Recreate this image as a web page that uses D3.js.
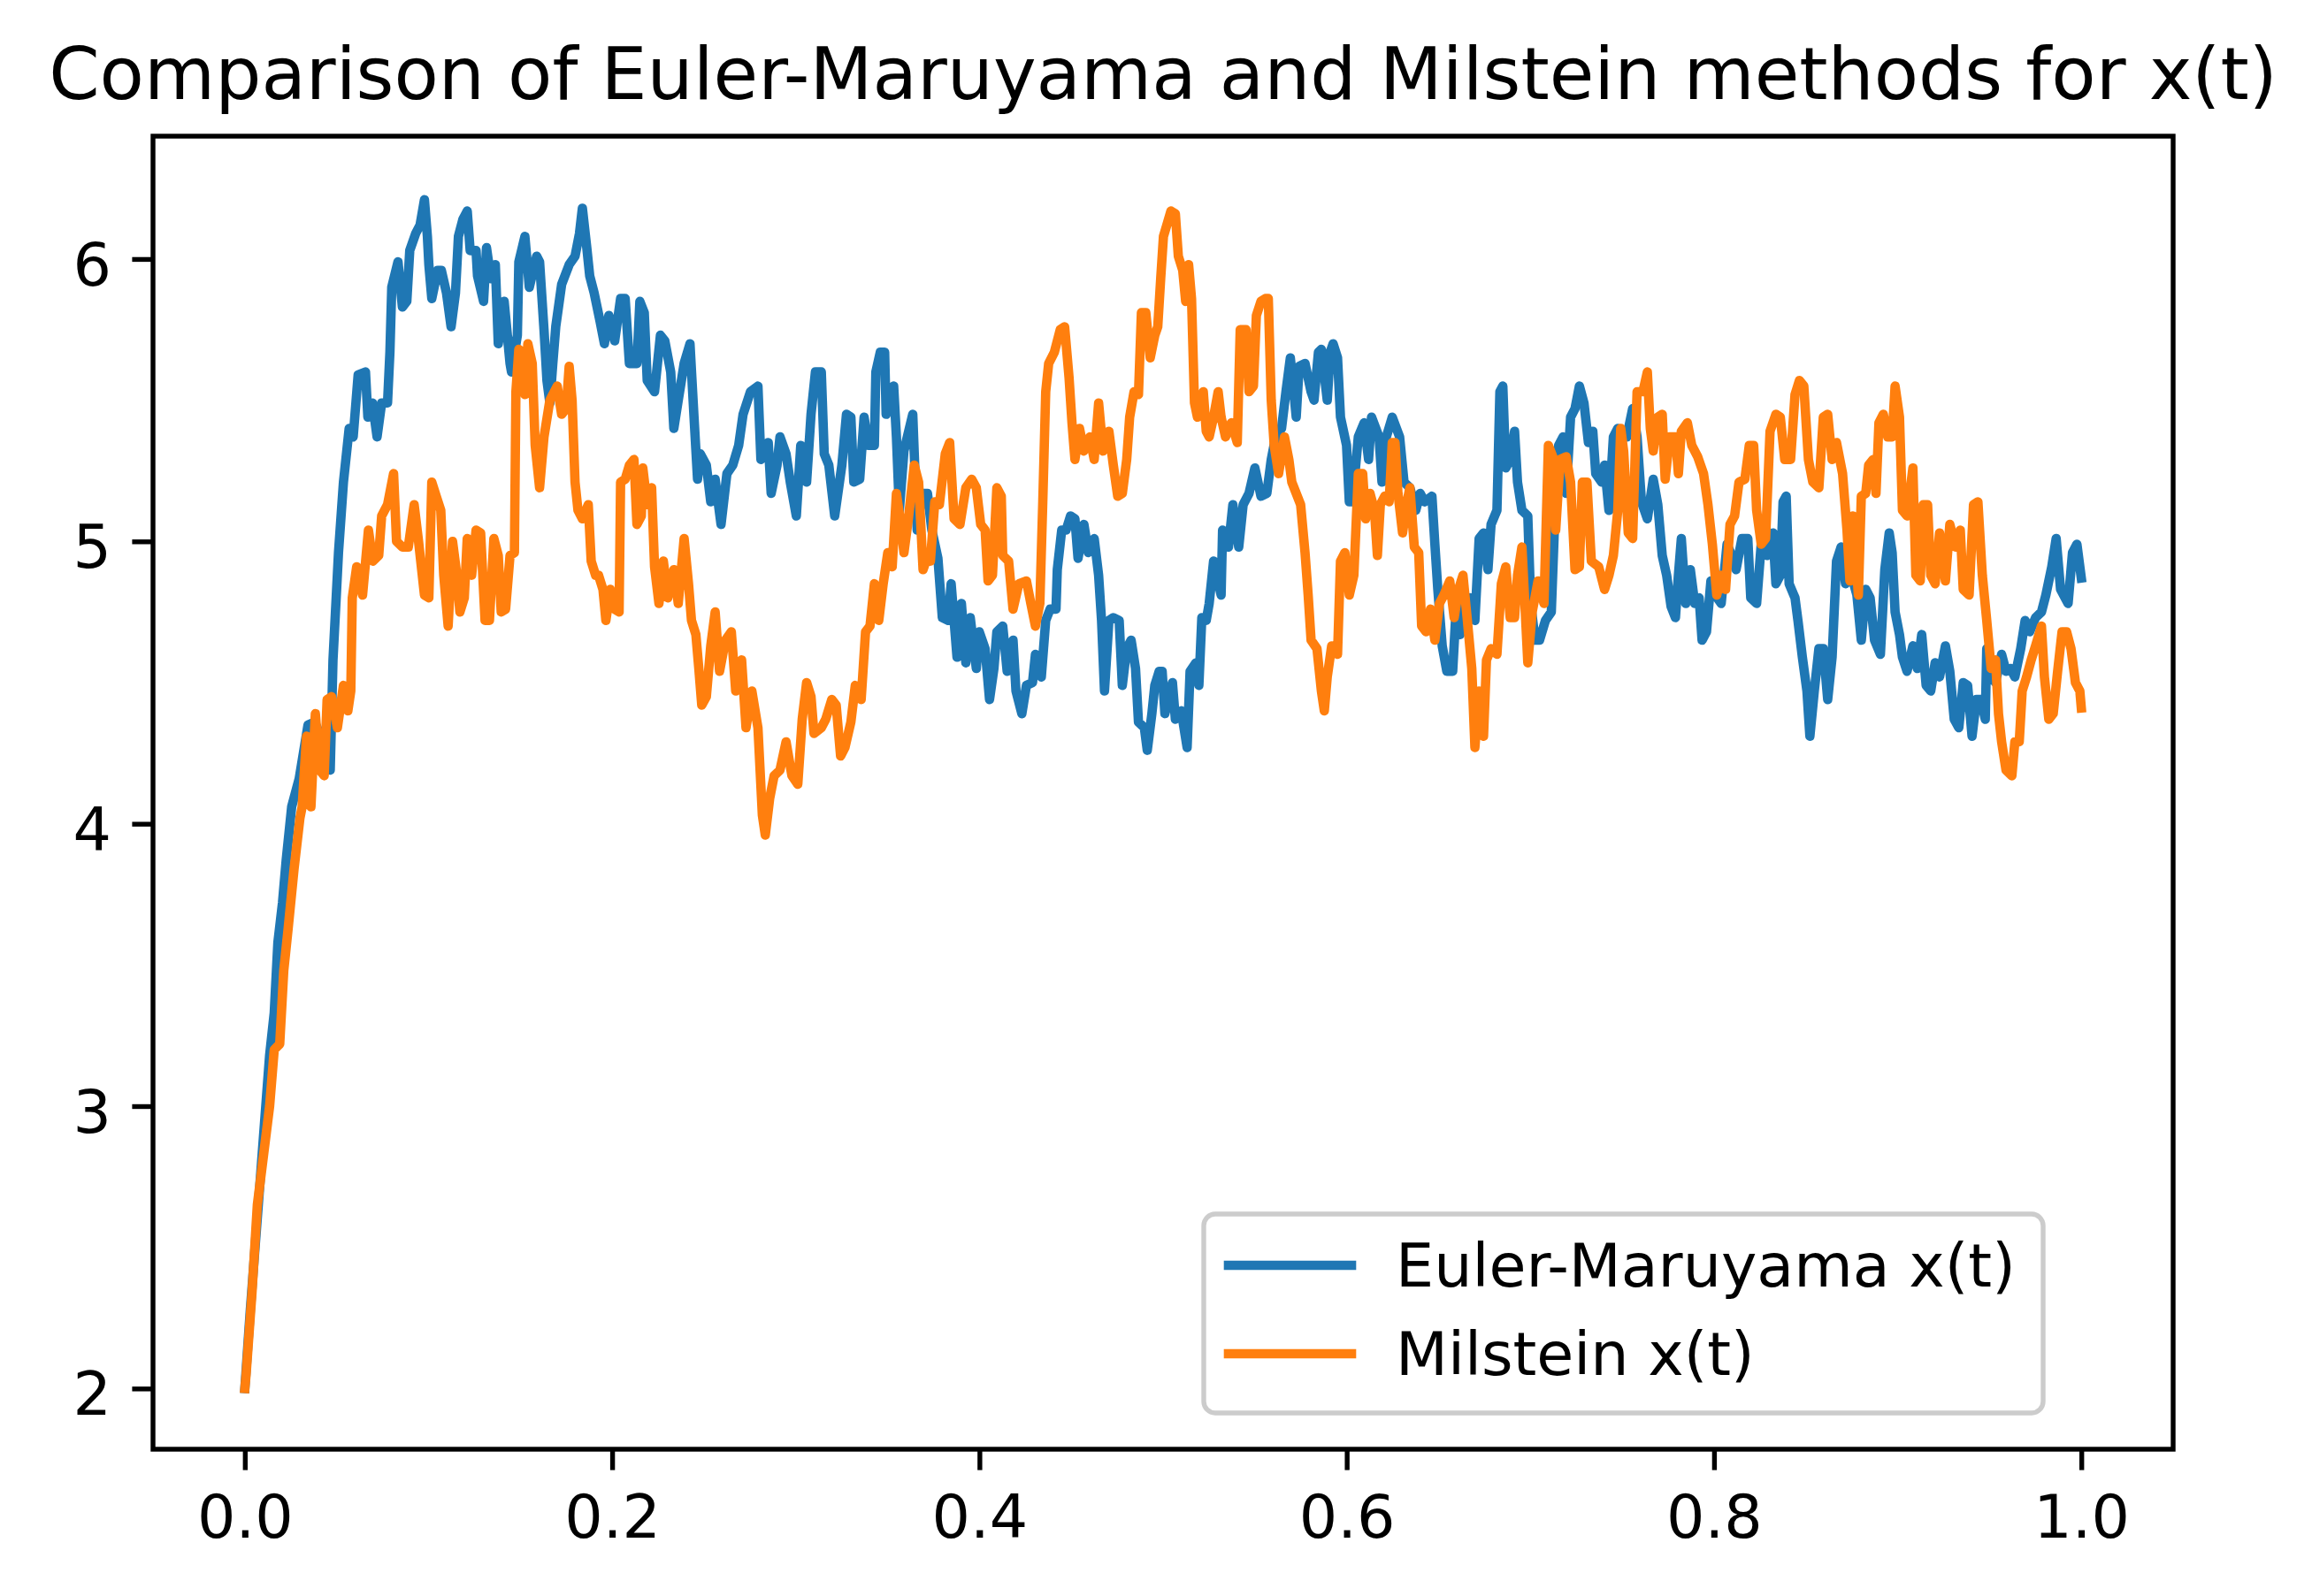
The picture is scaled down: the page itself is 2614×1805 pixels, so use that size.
<!DOCTYPE html>
<html>
<head>
<meta charset="utf-8">
<script src="https://cdn.jsdelivr.net/npm/d3@7"></script>
<style>
  html, body { margin: 0; padding: 0; background: #ffffff; }
  svg { display: block; }
  text { font-family: "DejaVu Sans", sans-serif; fill: #000; }
</style>
</head>
<body>
<svg id="chart" width="2614" height="1805"></svg>
<script>
// ---------- data ----------
const chartTitle = "Comparison of Euler-Maruyama and Milstein methods for x(t)";
const seriesNames = ["Euler-Maruyama x(t)", "Milstein x(t)"];
const xTicks = [0.0, 0.2, 0.4, 0.6, 0.8, 1.0];
const yTicks = [2, 3, 4, 5, 6];

const emT = [0,0.003,0.0085,0.0135,0.016,0.018,0.0205,0.0225,0.0255,0.0296,0.0344,0.038,0.042,0.0465,0.048,0.051,0.0537,0.0568,0.059,0.0617,0.0657,0.067,0.0695,0.072,0.0745,0.0777,0.079,0.080,0.0834,0.0858,0.0882,0.0898,0.093,0.0954,0.0978,0.0994,0.1002,0.1018,0.105,0.107,0.1098,0.1123,0.1147,0.1163,0.1187,0.1211,0.1227,
0.1259,0.1267,0.1300,0.1316,0.1340,0.1364,0.1380,0.1412,0.1444,0.1452,0.1484,0.1492,0.1525,0.1549,0.1589,0.1605,0.1629,0.1645,0.1661,0.1677,0.1693,0.1725,0.1766,0.1798,0.1822,0.1838,0.1862,0.1878,0.1902,0.1934,0.1958,0.1982,0.2014,0.2046,0.2071,0.2094,0.2135,0.2151,0.2175,0.2191,0.2231,0.2263,0.2287,0.2319,0.2336,0.2360,0.2392,0.2424,0.2445,0.2465,
0.2480,0.2513,0.2537,0.2561,0.2593,0.2625,0.2657,0.2689,0.2713,0.2753,0.2794,0.2810,0.2850,0.2866,0.2898,0.2914,0.2947,0.2970,0.3003,0.3027,0.3059,0.3083,0.3107,0.3139,0.3155,0.3180,0.3212,0.3251,0.3276,0.3300,0.3316,0.3348,0.3372,0.3396,0.3428,0.3436,0.3460,0.3484,0.3492,0.3533,0.3548,0.3564,0.3589,0.3637,0.3661,0.3685,0.3717,0.3741,
0.3774,0.3798,0.3830,0.3846,0.3878,0.3902,0.3926,0.3950,0.3983,0.3999,0.4031,0.4055,0.4079,0.4095,0.4127,0.4151,0.4183,0.4199,0.4231,0.4256,0.4289,0.4305,0.4337,0.4361,0.4385,0.4417,0.4424,0.4448,0.4472,0.4496,0.4520,0.4537,0.4569,0.4593,0.4625,0.4649,0.4665,0.4681,0.4705,0.4729,0.4761,0.4778,0.4802,0.4826,0.4850,0.4866,0.4898,0.4914,0.4939,0.4955,0.4979,
0.4995,0.5010,0.5051,0.5067,0.5099,0.5131,0.5147,0.5179,0.5195,0.5211,0.5235,0.5251,0.5275,0.5316,0.5324,0.5356,0.5380,0.5412,0.5436,0.5468,0.5500,0.5533,0.5565,0.5589,0.5613,0.5645,0.5669,0.5693,0.5709,0.5725,0.5741,0.5773,0.5806,0.5822,0.5846,0.5862,0.5894,0.5910,0.5926,0.5950,0.5966,0.5999,0.6014,0.6031,0.6063,0.6095,0.6119,0.6135,0.6176,0.6192,0.6216,0.6248,
0.6288,0.6312,0.6344,0.6376,0.6400,0.6424,0.6464,0.6480,0.6496,0.6520,0.6545,0.6577,0.6593,0.6617,0.6641,0.6673,0.6698,0.6721,0.6745,0.6769,0.6786,0.6818,0.6834,0.6850,0.6866,0.6890,0.6914,0.6930,0.6954,0.6986,0.7002,0.7026,0.7050,0.7082,0.7114,0.7130,0.7154,0.7178,0.7195,0.7219,0.7243,0.7267,0.7292,0.7316,0.7340,0.7356,0.7388,0.7404,0.7428,0.7452,0.7476,0.7500,
0.7525,0.7557,0.7581,0.7605,0.7637,0.7669,0.7694,0.7718,0.7742,0.7766,0.7790,0.7806,0.7822,0.7846,0.7871,0.7895,0.7919,0.7935,0.7959,0.7983,0.8007,0.8039,0.8071,0.8096,0.8120,0.8152,0.8184,0.8200,0.8232,0.8257,0.8289,0.8321,0.8337,0.8361,0.8376,0.8393,0.8409,0.8441,0.8457,0.8481,0.8506,0.8522,0.8546,0.8571,0.8595,0.8619,0.8643,0.8667,0.8692,0.8716,0.8748,
0.8778,0.8802,0.8826,0.8850,0.8874,0.8906,0.8930,0.8954,0.8970,0.8986,0.9010,0.9026,0.9051,0.9083,0.9107,0.9131,0.9155,0.9180,0.9204,0.9228,0.9260,0.9284,0.9308,0.9333,0.9357,0.9381,0.9405,0.9429,0.9453,0.9477,0.9485,0.9509,0.9533,0.9566,0.9590,0.9614,0.9638,0.9670,0.9694,0.9719,0.9751,0.9783,0.9807,0.9839,0.9863,0.9887,0.9928,0.9952,0.9976,1.0];

const emX = [2.00,2.28,2.75,3.18,3.33,3.58,3.72,3.87,4.06,4.16,4.35,4.36,4.30,4.19,4.58,4.96,5.21,5.40,5.37,5.59,5.60,5.44,5.49,5.37,5.49,5.49,5.67,5.90,5.99,5.83,5.85,6.03,6.09,6.12,6.21,6.08,5.98,5.86,5.96,5.96,5.88,5.76,5.88,6.08,6.14,6.17,6.03,
6.03,5.94,5.85,6.04,5.93,5.98,5.70,5.85,5.63,5.60,5.73,5.99,6.08,5.90,6.01,5.99,5.75,5.57,5.49,5.63,5.76,5.91,5.98,6.01,6.09,6.18,6.04,5.94,5.88,5.78,5.70,5.80,5.71,5.86,5.86,5.63,5.63,5.85,5.81,5.57,5.53,5.73,5.71,5.60,5.40,5.50,5.63,5.70,5.45,5.22,
5.31,5.27,5.14,5.22,5.06,5.24,5.27,5.34,5.45,5.53,5.55,5.29,5.35,5.17,5.27,5.37,5.31,5.21,5.09,5.34,5.21,5.45,5.60,5.60,5.31,5.27,5.09,5.27,5.45,5.44,5.21,5.22,5.44,5.34,5.34,5.60,5.67,5.67,5.45,5.55,5.37,5.11,5.32,5.45,5.04,5.17,5.17,5.04,
4.94,4.73,4.72,4.85,4.59,4.78,4.57,4.73,4.55,4.68,4.62,4.44,4.55,4.68,4.70,4.54,4.65,4.47,4.39,4.49,4.50,4.60,4.52,4.72,4.76,4.76,4.90,5.04,5.04,5.09,5.08,4.94,5.06,4.96,5.01,4.88,4.72,4.47,4.72,4.73,4.72,4.49,4.62,4.65,4.55,4.36,4.34,4.26,4.39,4.49,4.54,
4.54,4.39,4.50,4.37,4.40,4.27,4.54,4.57,4.49,4.73,4.72,4.78,4.93,4.81,5.04,4.98,5.13,4.98,5.13,5.17,5.26,5.16,5.17,5.29,5.37,5.40,5.53,5.65,5.55,5.44,5.62,5.63,5.53,5.50,5.67,5.68,5.50,5.67,5.70,5.65,5.44,5.34,5.14,5.14,5.37,5.42,5.29,5.44,5.37,5.21,5.37,5.44,
5.37,5.21,5.19,5.11,5.17,5.14,5.16,4.99,4.83,4.63,4.54,4.54,4.73,4.67,4.78,4.80,4.72,5.01,5.03,4.90,5.06,5.11,5.53,5.55,5.26,5.29,5.39,5.21,5.11,5.09,4.78,4.65,4.65,4.72,4.75,5.03,5.34,5.37,5.17,5.44,5.47,5.55,5.49,5.35,5.39,5.24,5.21,5.27,5.11,5.37,5.40,5.37,
5.37,5.47,5.37,5.14,5.08,5.22,5.13,4.95,4.88,4.77,4.73,4.88,5.01,4.78,4.90,4.78,4.80,4.65,4.68,4.86,4.81,4.78,4.99,4.95,4.90,5.01,5.01,4.80,4.78,4.99,4.95,5.03,4.85,4.88,5.14,5.16,4.85,4.80,4.72,4.59,4.47,4.31,4.47,4.62,4.62,4.44,4.59,4.93,4.98,4.85,4.88,
4.81,4.65,4.83,4.80,4.65,4.60,4.90,5.03,4.96,4.75,4.67,4.59,4.54,4.63,4.55,4.67,4.49,4.47,4.57,4.52,4.63,4.54,4.37,4.34,4.50,4.49,4.31,4.44,4.44,4.37,4.62,4.52,4.50,4.60,4.54,4.55,4.52,4.62,4.72,4.68,4.73,4.75,4.81,4.91,5.01,4.83,4.78,4.96,4.99,4.87];

const milT = [0,0.0007,0.0039,0.0068,0.0135,0.016,0.019,0.0212,0.0236,0.0268,0.030,0.0312,0.0336,0.0360,0.0384,0.0408,0.0432,0.0448,0.0472,0.0504,0.0537,0.0561,0.0577,0.0585,0.0609,0.0641,0.0673,0.0697,0.0729,0.0745,0.0777,0.0810,0.0826,0.0858,0.0890,0.0922,0.0946,0.0978,0.1002,0.1018,0.1042,0.1067,0.1083,0.1107,0.1131,0.1155,0.1171,0.1195,
0.1211,0.1235,0.1259,0.1284,0.1308,0.1332,0.1356,0.1380,0.1396,0.1420,0.1444,0.1468,0.1476,0.1492,0.1508,0.1525,0.1541,0.1565,0.1581,0.1605,0.1629,0.1661,0.1677,0.1701,0.1725,0.1750,0.1766,0.1782,0.1798,0.1814,0.1838,0.1870,0.1886,0.1910,0.1926,0.1950,0.1966,0.1990,0.2014,0.2038,0.2046,0.2071,0.2094,0.2119,0.2135,0.2159,0.2167,0.2191,0.2215,0.2231,0.2255,0.2279,0.2303,0.2336,0.2360,0.2392,0.2416,0.2432,0.2456,0.2472,0.2488,
0.2513,0.2537,0.2561,0.2585,0.2617,0.2649,0.2673,0.2705,0.2729,0.2761,0.2794,0.2818,0.2834,0.2858,0.2882,0.2914,0.2947,0.2979,0.3011,0.3035,0.3059,0.3083,0.3099,0.3139,0.3163,0.3196,0.3220,0.3244,0.3268,0.3300,0.3324,0.3356,0.3380,0.3404,0.3428,0.3452,0.3476,0.3501,0.3525,0.3548,0.3572,0.3589,0.3613,0.3645,0.3669,0.3693,0.3725,
0.3733,0.3757,0.3782,0.3814,0.3838,0.3862,0.3894,0.3926,0.3958,0.3983,0.4007,0.4031,0.4047,0.4071,0.4095,0.4119,0.4127,0.4159,0.4183,0.4215,0.4256,0.4280,0.4305,0.4329,0.4345,0.4361,0.4377,0.4408,0.4440,0.4464,0.4488,0.4504,0.4520,0.4545,0.4569,0.4601,0.4625,0.4649,0.4673,0.4705,0.4729,0.4753,0.4778,0.4802,0.4818,0.4842,0.4866,0.4882,0.4906,0.4930,0.4955,0.4971,0.4987,0.5002,
0.5043,0.5067,0.5083,0.5107,0.5123,0.5139,0.5155,0.5171,0.5187,0.5219,0.5235,0.5251,0.5275,0.5300,0.5316,0.5340,0.5372,0.5404,0.5420,0.5452,0.5468,0.5492,0.5508,0.5533,0.5557,0.5573,0.5589,0.5605,0.5629,0.5661,0.5685,0.5701,0.5725,0.5749,0.5773,0.5790,0.5806,0.5838,0.5862,0.5878,0.5894,0.5918,0.5950,0.5966,0.5990,0.6014,0.6039,0.6063,0.6087,0.6103,0.6127,0.6151,0.6167,0.6183,0.6207,0.6231,0.6248,
0.6263,0.6279,0.6304,0.6328,0.6344,0.6368,0.6392,0.6408,0.6432,0.6456,0.6480,0.6505,0.6529,0.6561,0.6585,0.6609,0.6633,0.6657,0.6681,0.6698,0.6721,0.6745,0.6761,0.6786,0.6818,0.6842,0.6866,0.6890,0.6914,0.6930,0.6954,0.6970,0.6986,0.7010,0.7042,0.7074,0.7098,0.7122,0.7138,0.7162,0.7195,0.7219,0.7243,0.7267,0.7283,0.7308,0.7332,0.7372,0.7404,0.7428,0.7452,0.7476,0.7492,
0.7508,0.7533,0.7557,0.7581,0.7613,0.7637,0.7653,0.7669,0.7694,0.7718,0.7734,0.7758,0.7790,0.7806,0.7822,0.7855,0.7879,0.7911,0.7943,0.7967,0.7991,0.8015,0.8039,0.8063,0.8087,0.8112,0.8136,0.8168,0.8192,0.8216,0.8232,0.8257,0.8281,0.8305,0.8337,0.8361,0.8385,0.8417,0.8441,0.8465,0.8489,0.8514,0.8538,0.8571,0.8595,0.8619,0.8643,0.8667,0.8700,0.8724,0.8740,0.8756,
0.8786,0.8802,0.8826,0.8842,0.8866,0.8882,0.8898,0.8922,0.8946,0.8970,0.8986,0.9010,0.9026,0.9051,0.9083,0.9099,0.9123,0.9139,0.9163,0.9180,0.9204,0.9228,0.9260,0.9284,0.9316,0.9341,0.9357,0.9389,0.9413,0.9437,0.9461,0.9485,0.9509,0.9533,0.9549,0.9566,0.9590,0.9622,0.9638,0.9662,0.9678,0.9702,0.9727,0.9751,0.9783,0.9799,0.9823,0.9847,0.9871,0.9895,0.9920,0.9944,0.9968,0.9992,1.0];

const milX = [2.00,2.05,2.34,2.65,3.00,3.20,3.22,3.48,3.63,3.84,4.02,4.06,4.31,4.06,4.39,4.19,4.17,4.44,4.45,4.34,4.49,4.40,4.47,4.80,4.91,4.81,5.04,4.93,4.95,5.09,5.13,5.24,5.00,4.98,4.98,5.13,5.00,4.81,4.80,5.21,5.16,5.11,4.88,4.70,5.00,4.88,4.75,4.80,
5.01,4.88,5.04,5.03,4.72,4.72,5.01,4.95,4.75,4.76,4.95,4.96,5.53,5.68,5.67,5.52,5.70,5.63,5.34,5.19,5.37,5.50,5.52,5.55,5.45,5.47,5.62,5.50,5.21,5.11,5.08,5.13,4.93,4.88,4.88,4.83,4.72,4.83,4.76,4.75,5.21,5.22,5.27,5.29,5.06,5.09,5.26,5.13,5.19,4.91,4.78,4.93,4.80,4.90,4.78,5.01,4.85,4.72,4.67,4.55,4.42,
4.45,4.63,4.75,4.54,4.65,4.68,4.47,4.58,4.34,4.47,4.34,4.03,3.96,4.09,4.17,4.19,4.29,4.17,4.14,4.37,4.50,4.45,4.32,4.34,4.37,4.44,4.42,4.24,4.27,4.36,4.49,4.44,4.68,4.70,4.85,4.72,4.85,4.96,4.91,5.17,5.06,4.96,5.08,5.27,5.21,4.90,4.96,
4.93,5.14,5.13,5.31,5.35,5.08,5.06,5.19,5.22,5.19,5.06,5.04,4.86,4.88,5.19,5.16,4.95,4.93,4.76,4.85,4.86,4.78,4.70,4.78,5.14,5.53,5.63,5.67,5.75,5.76,5.58,5.42,5.29,5.40,5.32,5.37,5.29,5.49,5.32,5.39,5.27,5.16,5.17,5.29,5.44,5.53,5.52,5.81,5.81,5.65,5.73,5.76,5.93,6.08,
6.17,6.16,6.01,5.96,5.85,5.98,5.86,5.49,5.44,5.53,5.39,5.37,5.44,5.53,5.44,5.37,5.42,5.35,5.75,5.75,5.53,5.55,5.80,5.85,5.86,5.86,5.50,5.34,5.24,5.37,5.29,5.21,5.17,5.13,4.96,4.81,4.65,4.62,4.47,4.40,4.52,4.63,4.60,4.93,4.96,4.81,4.88,5.24,5.24,5.08,5.17,5.11,4.95,5.13,5.16,5.14,5.35,
5.35,5.17,5.03,5.14,5.19,4.98,4.96,4.70,4.68,4.76,4.65,4.78,4.81,4.86,4.73,4.83,4.88,4.72,4.55,4.27,4.47,4.31,4.58,4.62,4.60,4.85,4.91,4.73,4.73,4.88,4.98,4.78,4.57,4.75,4.86,4.78,5.34,5.30,5.04,5.29,5.30,5.21,4.90,4.91,5.21,5.21,4.93,4.91,4.83,4.88,4.95,5.11,5.40,
5.32,5.03,5.01,5.53,5.53,5.60,5.40,5.32,5.44,5.45,5.22,5.37,5.37,5.24,5.39,5.42,5.34,5.30,5.24,5.13,4.99,4.81,4.88,4.83,5.06,5.09,5.21,5.22,5.34,5.34,5.11,4.99,5.01,5.39,5.45,5.44,5.29,5.29,5.52,5.57,5.55,5.29,5.21,5.19,5.44,5.45,5.29,5.35,5.24,5.04,4.86,5.09,
4.81,5.16,5.17,5.27,5.29,5.17,5.42,5.45,5.37,5.37,5.55,5.44,5.11,5.09,5.26,4.88,4.86,5.13,5.13,4.88,4.85,5.03,4.86,5.06,4.98,5.04,4.83,4.81,5.13,5.14,4.88,4.72,4.55,4.58,4.39,4.29,4.19,4.17,4.29,4.29,4.47,4.52,4.58,4.63,4.70,4.52,4.37,4.39,4.54,4.68,4.68,4.62,4.50,4.47,4.41];

const colors = ["#1f77b4", "#ff7f0e"];

// ---------- layout ----------
const W = 2614, H = 1805;
const axLeft = 173, axRight = 2457, axTop = 154, axBottom = 1639;
const fontTick = 68.3, fontTitle = 82.3;
const lw = 10.6, spineW = 5.4, tickLen = 23.6;

const svg = d3.select("#chart");
svg.append("rect").attr("width", W).attr("height", H).attr("fill", "#ffffff");

const x = d3.scaleLinear().domain([-0.05, 1.05]).range([axLeft, axRight]);
const y = d3.scaleLinear().domain([1.785, 6.435]).range([axBottom, axTop]);

// clip
svg.append("defs").append("clipPath").attr("id", "clip")
  .append("rect").attr("x", axLeft).attr("y", axTop)
  .attr("width", axRight - axLeft).attr("height", axBottom - axTop);

// data lines
const series = [
  emT.map((t, i) => [t, emX[i]]),
  milT.map((t, i) => [t, milX[i]])
];
const line = d3.line().x(d => x(d[0])).y(d => y(d[1]));
const g = svg.append("g").attr("clip-path", "url(#clip)");
series.forEach((s, i) => {
  g.append("path").datum(s)
    .attr("d", line)
    .attr("fill", "none")
    .attr("stroke", colors[i])
    .attr("stroke-width", lw)
    .attr("stroke-linejoin", "round")
    .attr("stroke-linecap", "square");
});

// axes
const xAxis = d3.axisBottom(x).tickValues(xTicks).tickFormat(d3.format(".1f"))
  .tickSize(tickLen).tickPadding(28);
const gx = svg.append("g").attr("transform", `translate(0,${axBottom})`).call(xAxis);
gx.select(".domain").remove();
gx.selectAll(".tick line").attr("stroke", "#000").attr("stroke-width", spineW);
gx.selectAll(".tick text").attr("font-size", fontTick).attr("font-family", "DejaVu Sans").attr("fill", "#000");

const yAxis = d3.axisLeft(y).tickValues(yTicks).tickFormat(d3.format("d"))
  .tickSize(tickLen).tickPadding(23.4);
const gy = svg.append("g").attr("transform", `translate(${axLeft},0)`).call(yAxis);
gy.select(".domain").remove();
gy.selectAll(".tick line").attr("stroke", "#000").attr("stroke-width", spineW);
gy.selectAll(".tick text").attr("font-size", fontTick).attr("font-family", "DejaVu Sans")
  .attr("fill", "#000").attr("dy", "0.43em");

// spines
svg.append("rect")
  .attr("x", axLeft).attr("y", axTop)
  .attr("width", axRight - axLeft).attr("height", axBottom - axTop)
  .attr("fill", "none").attr("stroke", "#000").attr("stroke-width", spineW)
  .attr("stroke-linejoin", "miter");

// title
svg.append("text")
  .attr("x", (axLeft + axRight) / 2).attr("y", 112)
  .attr("text-anchor", "middle")
  .attr("font-size", fontTitle)
  .text(chartTitle);

// legend
const lg = svg.append("g");
lg.append("rect")
  .attr("x", 1361).attr("y", 1373).attr("width", 949).attr("height", 225)
  .attr("rx", 13).attr("ry", 13)
  .attr("fill", "#ffffff").attr("fill-opacity", 0.8)
  .attr("stroke", "#cccccc").attr("stroke-width", spineW);
seriesNames.forEach((name, i) => {
  const ly = 1431 + i * 100;
  lg.append("line")
    .attr("x1", 1389).attr("x2", 1528).attr("y1", ly).attr("y2", ly)
    .attr("stroke", colors[i]).attr("stroke-width", lw).attr("stroke-linecap", "square");
  lg.append("text")
    .attr("x", 1578).attr("y", 1455 + i * 100)
    .attr("font-size", fontTick)
    .text(name);
});
</script>
</body>
</html>
